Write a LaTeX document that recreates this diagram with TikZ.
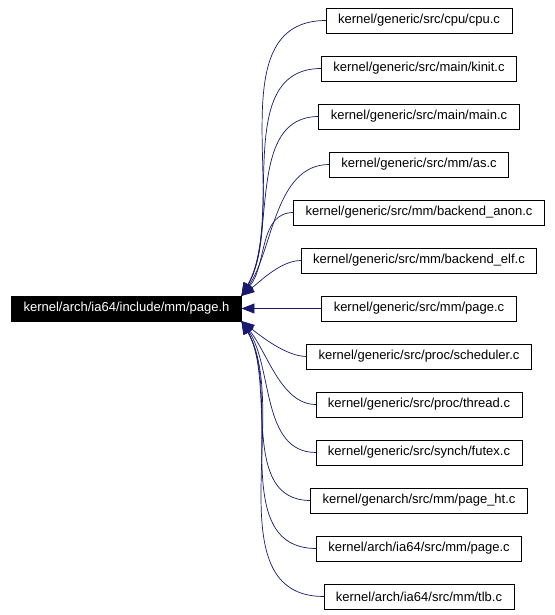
\documentclass[tikz,border=0pt]{standalone}
\usepackage{fontspec}
\setmainfont{Liberation Sans}
\usetikzlibrary{arrows.meta, positioning}
\definecolor{depblue}{HTML}{191970}
\tikzset{
  node distance=23pt,
  >={Triangle[length=13pt, width=10pt]},
  file/.style={rectangle, draw=black, fill=white, line width=0.8pt, outer sep=0pt,
               minimum height=25pt, inner xsep=12pt, inner ysep=2pt,
               font=\fontsize{13}{15}\selectfont},
  cur/.style={file, fill=black, text=white},
  dep/.style={<-, draw=depblue, line width=0.7pt},
}
\begin{document}
\begin{tikzpicture}[x=1pt, y=1pt]
    \useasboundingbox (0,0) rectangle (554,615);
    % the header and the files that include it
    \node[cur] (main) at (126.5,306.5) {kernel/arch/ia64/include/mm/page.h};
    \node[file] (cpu) at (419,594.5) {kernel/generic/src/cpu/cpu.c};
    \node[file, below=of cpu] (kinit) {kernel/generic/src/main/kinit.c};
    \node[file, below=of kinit] (mainc) {kernel/generic/src/main/main.c};
    \node[file, below=of mainc] (as) {kernel/generic/src/mm/as.c};
    \node[file, below=of as] (anon) {kernel/generic/src/mm/backend\_anon.c};
    \node[file, below=of anon] (elf) {kernel/generic/src/mm/backend\_elf.c};
    \node[file, below=of elf] (mmpage) {kernel/generic/src/mm/page.c};
    \node[file, below=of mmpage] (sched) {kernel/generic/src/proc/scheduler.c};
    \node[file, below=of sched] (thread) {kernel/generic/src/proc/thread.c};
    \node[file, below=of thread] (futex) {kernel/generic/src/synch/futex.c};
    \node[file, below=of futex] (pageht) {kernel/genarch/src/mm/page\_ht.c};
    \node[file, below=of pageht] (iapage) {kernel/arch/ia64/src/mm/page.c};
    \node[file, below=of iapage] (tlb) {kernel/arch/ia64/src/mm/tlb.c};
    % include edges
    \draw[dep] (main.north east) to[out=60, in=180, out distance=100, in distance=110] (cpu);
    \draw[dep] (main.north east) to[out=60, in=180, out distance=85, in distance=90] (kinit);
    \draw[dep] (main.north east) to[out=60, in=180, out distance=70, in distance=72] (mainc);
    \draw[dep] (main.north east) to[out=55, in=180, out distance=55, in distance=55] (as);
    \draw[dep] (main.north east) to[out=50, in=180, out distance=40, in distance=35] (anon);
    \draw[dep] (main.north east) to[out=38, in=180, out distance=25, in distance=20] (elf);
    \draw[dep] (main.east) -- (mmpage);
    \draw[dep] (main.south east) to[out=-38, in=180, out distance=25, in distance=20] (sched);
    \draw[dep] (main.south east) to[out=-50, in=180, out distance=40, in distance=35] (thread);
    \draw[dep] (main.south east) to[out=-55, in=180, out distance=55, in distance=55] (futex);
    \draw[dep] (main.south east) to[out=-60, in=180, out distance=70, in distance=72] (pageht);
    \draw[dep] (main.south east) to[out=-60, in=180, out distance=85, in distance=90] (iapage);
    \draw[dep] (main.south east) to[out=-60, in=180, out distance=100, in distance=110] (tlb);
\end{tikzpicture}
\end{document}
